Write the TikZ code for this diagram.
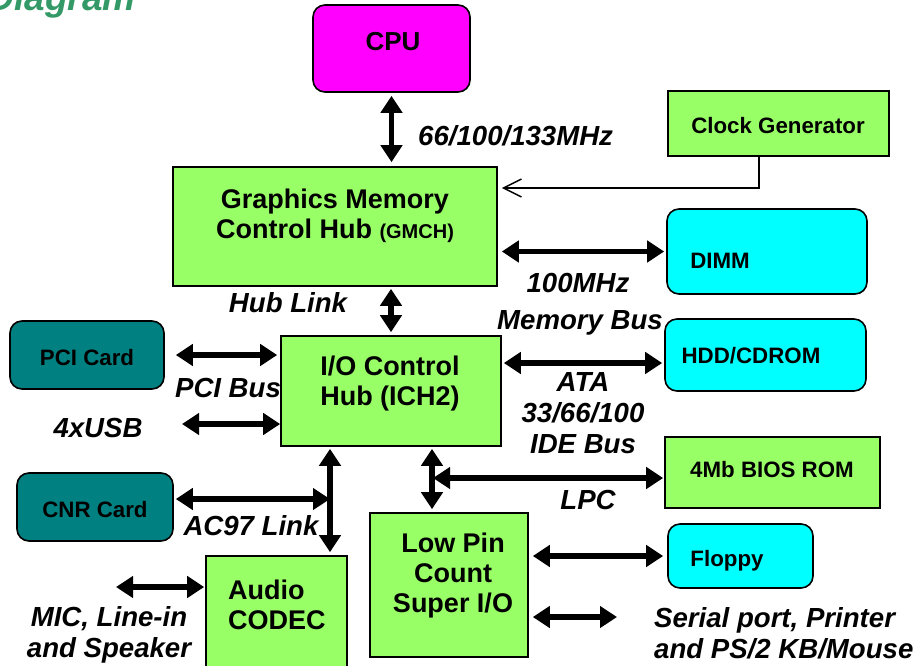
\documentclass[tikz,border=0pt]{standalone}
\usepackage{fontspec}
\setmainfont{Liberation Sans}
\usetikzlibrary{arrows.meta,calc}
\definecolor{gfill}{HTML}{99FF66}
\definecolor{magf}{HTML}{FF00FF}
\definecolor{cyanf}{HTML}{00FFFF}
\definecolor{tealf}{HTML}{008080}
\definecolor{titleg}{HTML}{339966}
\begin{document}
\begin{tikzpicture}[x=1pt,y=-1pt,
  box/.style={draw=black, line width=1.6pt, fill=#1, inner sep=0pt},
  rbox/.style={box=#1, rounded corners=12pt},
  txt/.style={inner sep=0pt, align=center, font=\bfseries\fontsize{27}{30}\selectfont},
  stxt/.style={inner sep=0pt, align=center, font=\bfseries\fontsize{22.3}{25}\selectfont},
  lbl/.style={inner sep=0pt, align=center, font=\bfseries\itshape\fontsize{27.6}{31}\selectfont},
  dbl/.style={line width=5.5pt, {Triangle[width=21pt,length=17pt]}-{Triangle[width=21pt,length=17pt]}},
  clkline/.style={line width=1.5pt, -{Straight Barb[length=18pt,width=18pt,line width=1.5pt]}}
]
\useasboundingbox (0,0) rectangle (916,665);
\clip (0,0) rectangle (916,665);

% title (cut off at the top, as in the reference)
\node[anchor=base east, inner sep=0pt, text=titleg, font=\bfseries\itshape\fontsize{37}{40}\selectfont] (title) at (136,10) {Diagram};

% boxes
\node[rbox=magf, minimum width=157pt, minimum height=87pt] (cpu) at (391.5,48.5) {};
\node[box=gfill, minimum width=221pt, minimum height=65pt] (clk) at (778.5,123.5) {};
\node[box=gfill, minimum width=324pt, minimum height=119pt] (gmch) at (335,226.5) {};
\node[rbox=cyanf, minimum width=200pt, minimum height=85pt] (dimm) at (767,251.5) {};
\node[rbox=tealf, minimum width=154pt, minimum height=68pt] (pci) at (87,355) {};
\node[box=gfill, minimum width=220pt, minimum height=110pt] (ich) at (391,391) {};
\node[rbox=cyanf, minimum width=201pt, minimum height=72pt] (hdd) at (765.5,355) {};
\node[box=gfill, minimum width=215pt, minimum height=71pt] (bios) at (772.5,472.5) {};
\node[rbox=tealf, minimum width=156pt, minimum height=68pt] (cnr) at (95,507) {};
\node[box=gfill, minimum width=158pt, minimum height=144pt] (lpc) at (449,585) {};
\node[rbox=cyanf, minimum width=145pt, minimum height=64pt] (floppy) at (740.5,556) {};
\node[box=gfill, minimum width=141pt, minimum height=118pt] (audio) at (276.5,615) {};

% box texts
\node[txt, font=\bfseries\fontsize{26}{30}\selectfont] (cpuT) at (393,42) {CPU};
\node[stxt] (clkT) at (778,126) {Clock Generator};
\node[txt] (gmchT) at (335,216) {Graphics Memory\\Control Hub {\fontsize{20}{24}\selectfont(GMCH)}};
\node[stxt] (dimmT) at (720,261) {DIMM};
\node[stxt] (pciT) at (87,358) {PCI Card};
\node[txt] (ichT) at (390,384) {I/O Control\\Hub (ICH2)};
\node[stxt] (hddT) at (751,356) {HDD/CDROM};
\node[stxt] (biosT) at (772,470) {4Mb BIOS ROM};
\node[stxt] (cnrT) at (95,510) {CNR Card};
\node[txt] (lpcT) at (453,576) {Low Pin\\Count\\Super I/O};
\node[stxt] (floppyT) at (727,561) {Floppy};
\node[txt, align=left, anchor=west] (audioT) at (228,605) {Audio\\CODEC};

% labels
\node[lbl, anchor=west] (l66) at (418,136) {66/100/133MHz};
\node[lbl] (lhub) at (288,303) {Hub Link};
\node[lbl] (l100) at (578,283) {100MHz};
\node[lbl] (lmem) at (580,323) {Memory Bus};
\node[lbl] (lpci) at (228,388) {PCI Bus};
\node[lbl] (usb) at (98,428) {4xUSB};
\node[lbl] (lata) at (583,413) {ATA\\33/66/100\\IDE Bus};
\node[lbl] (llpc) at (588,500) {LPC};
\node[lbl] (lac97) at (251,526) {AC97 Link};
\node[lbl] (lmic) at (109,635) {MIC, Line-in\\and Speaker};
\node[lbl, align=left, anchor=west] (lser) at (654,633) {Serial port, Printer\\and PS/2 KB/Mouse};

% named free ends / junctions
\coordinate (usbEnd) at (182,424);
\coordinate (lpcbus) at (432,478);
\coordinate (ac97) at (330,499);
\coordinate (micEnd) at (116,587);
\coordinate (serEnd) at (617,617);

% connectors
\draw[dbl, shorten <=3pt, shorten >=4pt] (cpu.south) -- (cpu.south |- gmch.north);
\draw[clkline, shorten >=4pt] ([xshift=-19.5pt]clk.south) |- ([yshift=38.5pt]gmch.east);
\draw[dbl, shorten <=4pt, shorten >=2pt] (gmch.east |- dimm.west) -- (dimm.west);
\draw[dbl, shorten <=2pt, shorten >=3pt] (ich.north |- gmch.south) -- (ich.north);
\draw[dbl, shorten <=11pt, shorten >=3pt] (pci.east) -- (pci.east -| ich.west);
\draw[dbl] (usbEnd) -- (usbEnd -| ich.west);
\draw[dbl, shorten <=2pt, shorten >=2pt] ([yshift=-8pt]hdd.west -| ich.east) -- ([yshift=-8pt]hdd.west);
\draw[dbl, shorten <=2pt, shorten >=3pt] (lpcbus |- ich.south) -- (lpcbus |- lpc.north);
\draw[dbl, shorten <=1pt, shorten >=1pt] (lpcbus) -- (lpcbus -| bios.west);
\draw[dbl, shorten <=2pt, shorten >=3pt] (ac97 |- ich.south) -- (ac97 |- audio.north);
\draw[dbl, shorten <=2pt] (cnr.east |- ac97) -- (ac97);
\draw[dbl, shorten >=1pt] (micEnd) -- (micEnd -| audio.west);
\draw[dbl, shorten <=4pt, shorten >=4pt] (lpc.east |- floppy.west) -- (floppy.west);
\draw[dbl, shorten <=4pt] (serEnd -| lpc.east) -- (serEnd);
\end{tikzpicture}
\end{document}
